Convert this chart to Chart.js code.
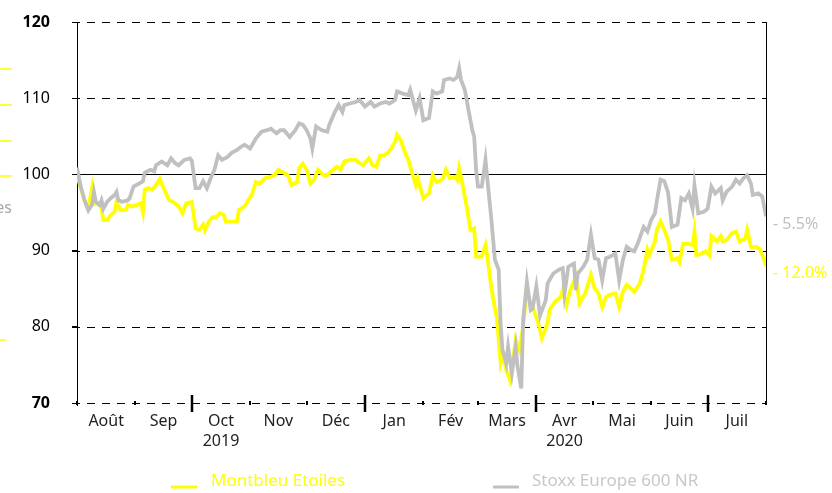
<!DOCTYPE html>
<html>
<head>
<meta charset="utf-8">
<script src="https://cdn.jsdelivr.net/npm/chart.js@4.4.1/dist/chart.umd.min.js"></script>
<style>
  html, body { margin: 0; padding: 0; background: #fff; }
  #wrap { width: 832px; height: 493px; position: relative; }
</style>
</head>
<body>
<div id="wrap"><canvas id="chart"></canvas></div>
<script>
// series names
const seriesNames = ["Montbleu Etoiles", "Stoxx Europe 600 NR"];

// days since 1 Aug 2019
const montbleuDays = [0, 2, 4, 6, 8, 9, 12, 13, 14, 16, 18, 20, 21, 23, 26, 27, 29, 32, 34, 35, 36, 38, 40, 42, 44, 46, 49, 51, 54, 56, 58, 61, 63, 65, 67, 68, 70, 72, 74, 76, 78, 79, 81, 83, 85, 86, 89, 91, 93, 95, 97, 100, 103, 105, 107, 110, 112, 114, 117, 118, 120, 122, 124, 126, 128, 131, 133, 135, 138, 140, 142, 145, 148, 150, 152, 155, 157, 159, 161, 163, 165, 167, 169, 170, 172, 174, 176, 178, 180, 181, 183, 184, 187, 189, 191, 194, 196, 198, 201, 202, 203, 205, 207, 209, 211, 212, 215, 217, 218, 220, 222, 223, 225, 226, 228, 230, 231, 233, 235, 237, 239, 240, 242, 245, 247, 250, 251, 254, 257, 258, 260, 262, 265, 266, 267, 270, 273, 275, 277, 279, 281, 283, 286, 288, 290, 292, 294, 296, 299, 301, 303, 304, 307, 308, 310, 312, 314, 316, 319, 320, 322, 325, 327, 328, 329, 332, 334, 336, 337, 340, 342, 343, 345, 348, 350, 352, 355, 356, 358, 361, 363, 365, 366];
const montbleuValues = [100.0, 98.2, 96.6, 95.5, 98.2, 96.2, 96.0, 95.5, 94.0, 94.0, 94.7, 95.1, 96.4, 95.3, 95.3, 96.0, 95.8, 96.0, 96.2, 95.1, 98.0, 98.2, 98.0, 98.6, 99.4, 98.2, 96.6, 96.4, 95.8, 94.9, 96.2, 96.4, 92.9, 92.7, 93.4, 92.7, 93.8, 94.4, 94.4, 94.9, 94.7, 93.8, 93.8, 93.8, 93.8, 95.3, 95.8, 96.6, 97.4, 99.0, 98.8, 99.5, 99.7, 99.9, 100.6, 100.2, 99.9, 98.6, 99.0, 100.8, 101.4, 100.6, 98.8, 99.3, 100.6, 99.9, 99.9, 100.4, 101.0, 100.6, 101.7, 101.9, 101.9, 101.5, 101.2, 102.1, 101.2, 101.0, 102.5, 102.5, 102.8, 103.4, 104.3, 105.2, 104.5, 103.0, 101.9, 100.2, 98.6, 99.5, 97.7, 96.9, 97.5, 99.9, 99.0, 99.3, 100.6, 99.5, 99.7, 99.3, 100.8, 98.4, 95.8, 92.7, 92.9, 89.2, 89.2, 90.7, 89.2, 85.3, 82.4, 81.3, 75.4, 76.5, 74.3, 73.0, 74.3, 78.3, 77.0, 80.0, 85.3, 83.7, 82.6, 80.5, 78.5, 80.5, 82.2, 83.3, 83.9, 84.8, 82.8, 84.8, 86.6, 84.8, 83.1, 84.4, 86.8, 85.0, 84.4, 82.6, 83.9, 84.2, 84.4, 82.6, 84.6, 85.5, 85.1, 84.6, 85.7, 87.5, 90.1, 89.4, 91.2, 92.7, 93.8, 92.7, 91.4, 88.8, 89.0, 88.5, 90.9, 90.9, 90.7, 92.5, 89.4, 89.6, 89.9, 89.4, 91.9, 91.2, 91.9, 91.2, 91.4, 92.3, 92.5, 91.2, 91.6, 92.7, 90.5, 90.5, 90.1, 88.8, 88.0];

const stoxxDays = [0, 2, 4, 6, 8, 9, 10, 12, 13, 14, 16, 18, 20, 21, 22, 24, 27, 28, 30, 33, 35, 36, 39, 41, 42, 45, 48, 50, 52, 54, 57, 60, 61, 63, 65, 67, 69, 71, 73, 75, 77, 80, 82, 85, 87, 89, 92, 95, 98, 101, 103, 106, 108, 110, 113, 116, 118, 120, 122, 124, 125, 127, 130, 133, 134, 137, 139, 141, 142, 145, 148, 150, 153, 156, 158, 161, 164, 166, 169, 170, 173, 176, 177, 179, 180, 182, 184, 187, 189, 191, 194, 195, 198, 200, 202, 203, 204, 206, 208, 210, 211, 212, 213, 215, 217, 218, 220, 222, 224, 225, 226, 228, 229, 231, 233, 234, 236, 237, 239, 241, 242, 244, 246, 249, 250, 253, 256, 258, 259, 261, 264, 265, 266, 269, 271, 273, 275, 277, 279, 281, 283, 286, 288, 290, 292, 294, 296, 298, 301, 303, 305, 307, 308, 310, 312, 314, 316, 319, 321, 323, 325, 327, 328, 330, 333, 335, 337, 339, 342, 343, 345, 348, 350, 352, 354, 356, 358, 359, 362, 364, 366];
const stoxxValues = [100.9, 98.4, 96.6, 95.3, 96.0, 97.7, 96.4, 96.0, 96.6, 95.5, 96.4, 96.9, 97.3, 97.7, 96.6, 96.4, 96.6, 96.9, 98.4, 98.8, 99.1, 100.2, 100.6, 100.4, 101.2, 101.7, 101.2, 102.1, 101.5, 101.2, 101.9, 102.1, 101.8, 98.2, 98.2, 99.1, 98.2, 99.5, 100.6, 102.5, 101.9, 102.3, 102.8, 103.2, 103.6, 103.9, 103.4, 104.7, 105.6, 105.8, 106.0, 105.4, 105.8, 105.8, 104.9, 105.8, 106.7, 106.5, 105.8, 104.7, 103.4, 106.3, 105.8, 105.6, 106.5, 108.2, 109.1, 108.2, 109.1, 109.3, 109.5, 109.8, 108.9, 109.5, 108.9, 109.3, 109.5, 109.3, 109.8, 110.9, 110.6, 110.4, 111.1, 109.3, 108.4, 110.0, 107.1, 107.4, 110.9, 110.6, 110.9, 112.4, 112.6, 112.4, 112.8, 113.9, 112.4, 111.1, 108.4, 105.8, 104.9, 100.6, 98.4, 98.4, 101.9, 99.3, 94.4, 88.8, 87.5, 80.5, 77.0, 75.2, 77.4, 73.9, 77.4, 74.8, 71.9, 80.9, 85.9, 82.2, 82.4, 85.3, 81.5, 83.5, 85.7, 87.0, 87.5, 87.7, 84.4, 87.9, 88.3, 84.8, 87.0, 87.9, 88.8, 92.1, 89.0, 88.8, 86.1, 89.0, 89.2, 89.6, 86.1, 88.8, 90.5, 90.1, 89.9, 91.0, 93.1, 92.5, 94.0, 94.9, 96.5, 99.3, 99.1, 97.6, 93.1, 93.4, 96.9, 96.6, 97.5, 95.5, 98.6, 94.9, 95.1, 95.5, 98.4, 97.5, 98.2, 96.6, 97.7, 98.4, 99.3, 98.8, 99.5, 99.9, 98.8, 97.3, 97.5, 97.1, 94.5];

// x axis: month boundaries (day offsets), label centres and labels
const monthStarts = [0, 31, 61, 92, 122, 153, 184, 213, 244, 274, 305, 335, 366];
const quarterStarts = [61, 153, 244, 335];
const monthLabels = ["Août", "Sep", ["Oct", "2019"], "Nov", "Déc", "Jan", "Fév", "Mars", ["Avr", "2020"], "Mai", "Juin", "Juil"];

// y axis
const yTicks = [70, 80, 90, 100, 110, 120];

const FONT = "'Noto Sans', sans-serif";
const YELLOW = "#ffff00";
const GREY = "#c0c0c0";

/* grid + axes drawn by hand (dashed, with a solid base line at 100) */
const gridPlugin = {
  id: "gridLines",
  beforeDatasetsDraw(chart) {
    const { ctx, chartArea: { left, right, top, bottom }, scales: { x, y } } = chart;
    ctx.save();
    ctx.strokeStyle = "#000";
    ctx.lineWidth = 1;
    yTicks.forEach((v) => {
      const py = Math.round(y.getPixelForValue(v)) + 0.5;
      ctx.setLineDash(v === 100 ? [] : [8, 7]);
      ctx.beginPath();
      ctx.moveTo(left - 5, py);
      ctx.lineTo(right, py);
      ctx.stroke();
    });
    ctx.setLineDash([]);

    // left and right axis lines
    ctx.beginPath();
    ctx.moveTo(Math.round(left) + 0.5, top);
    ctx.lineTo(Math.round(left) + 0.5, bottom + 3);
    ctx.moveTo(Math.round(right) + 0.5, top);
    ctx.lineTo(Math.round(right) + 0.5, bottom + 2);
    ctx.stroke();

    // month / quarter marks on the base line
    monthStarts.forEach((d) => {
      const px = Math.round(x.getPixelForValue(d));
      const big = quarterStarts.includes(d);
      ctx.lineWidth = big ? 2.5 : 2;
      ctx.beginPath();
      ctx.moveTo(px, big ? bottom - 8 : bottom - 2);
      ctx.lineTo(px, big ? bottom + 9 : bottom + 2);
      ctx.stroke();
    });
    ctx.restore();
  },
};

/* end-of-line performance labels */
const endLabelPlugin = {
  id: "endLabels",
  afterDatasetsDraw(chart) {
    const { ctx, chartArea: { right } } = chart;
    ctx.save();
    ctx.font = "16px " + FONT;
    ctx.textAlign = "left";
    ctx.textBaseline = "middle";
    chart.data.datasets.forEach((ds, i) => {
      const pts = chart.getDatasetMeta(i).data;
      const last = pts[pts.length - 1];
      const v = ds.data[ds.data.length - 1].y;
      const txt = (v < 100 ? "- " : "+ ") + Math.abs(v - 100).toFixed(1) + "%";
      ctx.fillStyle = ds.borderColor;
      ctx.fillText(txt, right + 7, last.y + 8);
    });
    ctx.restore();
  },
};

/* legend at the bottom + cropped bits of the neighbouring chart on the left */
const legendPlugin = {
  id: "bottomLegend",
  afterDraw(chart) {
    const { ctx } = chart;
    const spots = [
      { x: 171, text: 211 },
      { x: 493, text: 532 },
    ];
    ctx.save();
    ctx.font = "17px " + FONT;
    ctx.textBaseline = "middle";
    chart.data.datasets.forEach((ds, i) => {
      const s = spots[i];
      ctx.strokeStyle = ds.borderColor;
      ctx.lineWidth = 3;
      ctx.beginPath();
      ctx.moveTo(s.x, 487);
      ctx.lineTo(s.x + 26, 487);
      ctx.stroke();
      ctx.fillStyle = i === 0 ? YELLOW : "#c8c8c8";
      ctx.fillText(ds.label, s.text, 481);
    });

    // left edge remnants
    ctx.strokeStyle = YELLOW;
    ctx.lineWidth = 1.5;
    [[69, 12], [105, 12], [141, 12], [176, 12], [340, 6]].forEach(([py, w]) => {
      ctx.beginPath();
      ctx.moveTo(0, py);
      ctx.lineTo(w, py);
      ctx.stroke();
    });
    ctx.fillStyle = "#a6a6a6";
    ctx.font = "16px " + FONT;
    ctx.textAlign = "right";
    ctx.fillText("es", 12, 208);
    ctx.restore();
  },
};

new Chart(document.getElementById("chart"), {
  type: "line",
  data: {
    datasets: [
      {
        label: seriesNames[0],
        data: montbleuDays.map((d, i) => ({ x: d, y: montbleuValues[i] })),
        borderColor: YELLOW,
        borderWidth: 3.8,
        pointRadius: 0,
        tension: 0,
        order: 1,
      },
      {
        label: seriesNames[1],
        data: stoxxDays.map((d, i) => ({ x: d, y: stoxxValues[i] })),
        borderColor: GREY,
        borderWidth: 3.8,
        pointRadius: 0,
        tension: 0,
        order: 0,
      },
    ],
  },
  options: {
    responsive: true,
    maintainAspectRatio: false,
    animation: false,
    layout: { padding: { top: 22, right: 66, left: 0, bottom: 0 } },
    plugins: {
      legend: { display: false },
      tooltip: { enabled: false },
    },
    scales: {
      x: {
        type: "linear",
        min: 0,
        max: 366,
        afterFit: (s) => { s.height = 90; s.paddingLeft = 0; s.paddingRight = 0; },
        afterBuildTicks: (s) => {
          s.ticks = monthLabels.map((_, i) => ({ value: (monthStarts[i] + monthStarts[i + 1]) / 2 }));
        },
        grid: { display: false, drawTicks: false },
        border: { display: false },
        ticks: {
          autoSkip: false,
          maxRotation: 0,
          padding: 8,
          color: "#222",
          font: { family: FONT, size: 16, lineHeight: 1.25 },
          callback: (v, i) => monthLabels[i],
        },
      },
      y: {
        min: 70,
        max: 120,
        afterFit: (s) => { s.width = 77; s.paddingTop = 0; s.paddingBottom = 0; },
        afterBuildTicks: (s) => { s.ticks = yTicks.map((v) => ({ value: v })); },
        grid: { drawOnChartArea: false, drawTicks: true, tickLength: 5, color: "#000" },
        border: { display: false },
        ticks: {
          padding: 22,
          color: "#000",
          font: (c) => ({
            family: FONT,
            size: 16,
            weight: c.tick && (c.tick.value === 120 || c.tick.value === 70) ? "bold" : "normal",
          }),
        },
      },
    },
  },
  plugins: [gridPlugin, endLabelPlugin, legendPlugin],
});
</script>
</body>
</html>
